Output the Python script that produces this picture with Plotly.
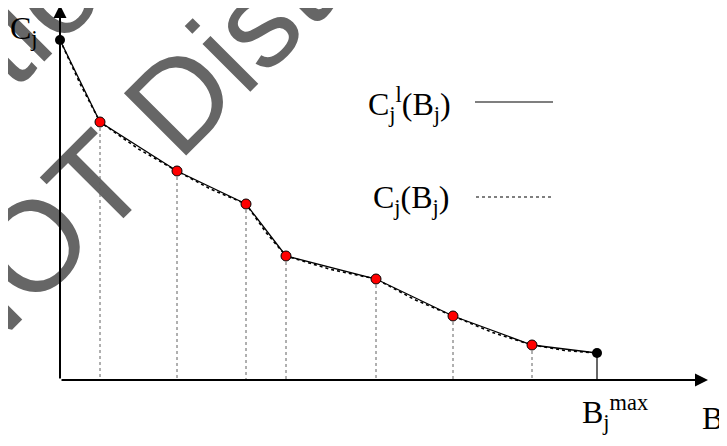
import plotly.graph_objects as go

# ---- data (B along the horizontal axis, C along the vertical axis) ----
B_nodes = [0, 40, 117, 186, 226, 316, 393, 472, 537]
C_nodes = [340, 258, 209, 176, 124, 101, 64, 35, 27]

# true cost curve C_j(B_j) (dotted): nodes plus read intermediate points
B_curve = [0, 20, 40, 78.5, 117, 151.5, 186, 206, 226, 271, 316, 354.5, 393, 432.5, 472, 504.5, 537]
C_curve = [340, 296.5, 258, 231, 209, 190.5, 176, 147.5, 124, 110.5, 101, 80.5, 64, 47.5, 35, 29.5, 27]

B_axis_end = 648
C_axis_end = 375

label_C = "C<sub>j</sub>"
label_Bmax = "B<sub>j</sub><sup>max</sup>"
label_B = "B<sub>j</sub>"
legend_lin = "C<sub>j</sub><sup>l</sup>(B<sub>j</sub>)"
legend_true = "C<sub>j</sub>(B<sub>j</sub>)"
watermark_lines = ["Reproduction", "NOT Distribution"]

PAGE_W, PAGE_H = 727, 446
OFF = 8                      # default body margin of the html page
W, H = PAGE_W - OFF, PAGE_H - OFF
SERIF = "Liberation Serif, Times New Roman, serif"
FS = 32

fig = go.Figure()

# vertical drop lines from the interior (red) nodes
xs, ys = [], []
for b, c in zip(B_nodes[1:-1], C_nodes[1:-1]):
    xs += [b, b, None]
    ys += [c, 0, None]
fig.add_trace(go.Scatter(x=xs, y=ys, mode="lines",
                         line=dict(color="#606060", width=1, dash="dot"),
                         hoverinfo="skip", showlegend=False))
# solid drop line at B_max
fig.add_trace(go.Scatter(x=[B_nodes[-1], B_nodes[-1]], y=[C_nodes[-1], 0], mode="lines",
                         line=dict(color="black", width=1.2),
                         hoverinfo="skip", showlegend=False))

# true curve (dotted)
fig.add_trace(go.Scatter(x=B_curve, y=C_curve, mode="lines",
                         line=dict(color="black", width=1.6, dash="dot"),
                         showlegend=False))
# piecewise linear approximation (solid)
fig.add_trace(go.Scatter(x=B_nodes, y=C_nodes, mode="lines",
                         line=dict(color="black", width=1.3),
                         showlegend=False))
# interior nodes (red)
fig.add_trace(go.Scatter(x=B_nodes[1:-1], y=C_nodes[1:-1], mode="markers",
                         marker=dict(color="#ff0000", size=10, line=dict(color="black", width=1)),
                         showlegend=False))
# end nodes (black)
fig.add_trace(go.Scatter(x=[B_nodes[0], B_nodes[-1]], y=[C_nodes[0], C_nodes[-1]], mode="markers",
                         marker=dict(color="black", size=10),
                         showlegend=False))

def px2paper(px, py):
    """page pixel -> paper coordinates of the figure (which sits OFF px in)."""
    return (px - OFF) / W, 1 - (py - OFF) / H

# watermark (below traces) as labelled invisible line shapes
shapes = []
for text, (cx, cy) in zip(watermark_lines, [(-150, 176), (258, 4)]):
    x0, y0 = px2paper(cx - 100, cy + 100)
    x1, y1 = px2paper(cx + 100, cy - 100)
    shapes.append(dict(type="line", xref="paper", yref="paper", x0=x0, y0=y0, x1=x1, y1=y1,
                       layer="below", line=dict(width=0, color="rgba(0,0,0,0)"),
                       label=dict(text=text, textposition="middle", yanchor="middle", padding=0,
                                  font=dict(family="Liberation Sans, Arial, sans-serif",
                                            size=128, color="#666666"))))

# legend keys
lx0, ly0 = px2paper(475, 102)
lx1, _ = px2paper(553, 102)
shapes.append(dict(type="line", xref="paper", yref="paper", x0=lx0, x1=lx1, y0=ly0, y1=ly0,
                   line=dict(color="black", width=1.2)))
lx0, ly1 = px2paper(476, 197)
lx1, _ = px2paper(554, 197)
shapes.append(dict(type="line", xref="paper", yref="paper", x0=lx0, x1=lx1, y0=ly1, y1=ly1,
                   line=dict(color="black", width=1.2, dash="dot")))

annotations = [
    # axes with arrowheads
    dict(x=B_axis_end, y=0, ax=0, ay=0, xref="x", yref="y", axref="x", ayref="y",
         showarrow=True, arrowhead=2, arrowsize=1.3, arrowwidth=2, arrowcolor="black",
         text="", standoff=0, startstandoff=0),
    dict(x=0, y=C_axis_end, ax=0, ay=0, xref="x", yref="y", axref="x", ayref="y",
         showarrow=True, arrowhead=2, arrowsize=1.3, arrowwidth=2, arrowcolor="black",
         text="", standoff=0, startstandoff=0),
]

def txt(text, px, py, xanchor="left", yanchor="middle"):
    x, y = px2paper(px, py)
    return dict(text=text, x=x, y=y, xref="paper", yref="paper", showarrow=False,
                xanchor=xanchor, yanchor=yanchor,
                font=dict(family=SERIF, size=FS, color="black"))

annotations += [
    txt(label_C, 8, 30),
    txt(label_Bmax, 580, 412),
    txt(label_B, 700, 420),
    txt(legend_lin, 366, 104),
    txt(legend_true, 371, 199),
]

fig.update_layout(
    width=W, height=H, autosize=False,
    margin=dict(l=0, r=0, t=0, b=0, pad=0),
    paper_bgcolor="white", plot_bgcolor="white",
    xaxis=dict(range=[-(60 - OFF), W - (60 - OFF)], visible=False, fixedrange=True),
    yaxis=dict(range=[(380 - OFF) - H, 380 - OFF], visible=False, fixedrange=True),
    shapes=shapes, annotations=annotations, showlegend=False,
)

fig.write_html("out.html")
